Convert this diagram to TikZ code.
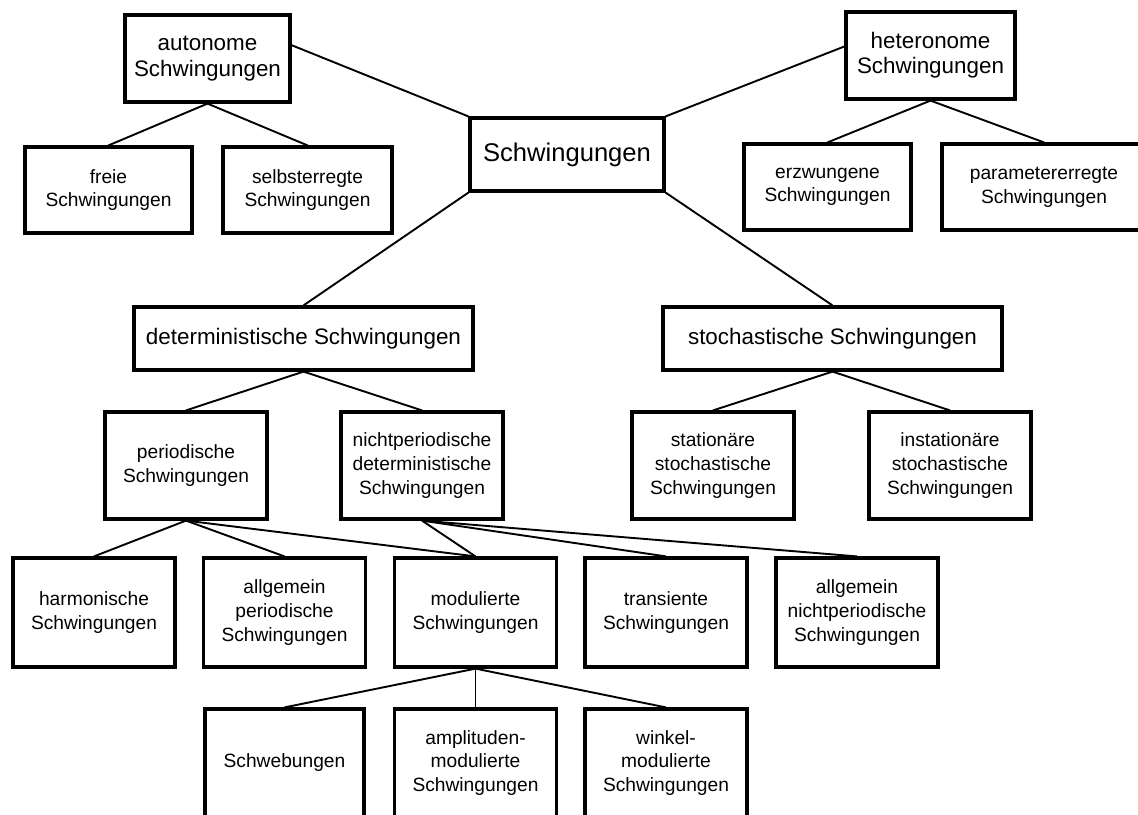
\documentclass[tikz,border=0pt]{standalone}
\usepackage{fontspec}
\setmainfont{Liberation Sans}
\begin{document}
\begin{tikzpicture}[x=0.5pt,y=-0.5pt,
  box/.style={draw, rectangle, line width=1.6pt, inner sep=0pt, align=center},
  smallbox/.style={box, font=\fontsize{9.6}{11.8}\selectfont, minimum width=81pt},
  midbox/.style={box, font=\fontsize{11.2}{12.6}\selectfont},
  mainbox/.style={box, font=\fontsize{12.8}{15}\selectfont},
  conn/.style={line width=0.95pt}]
\useasboundingbox (0,0) rectangle (1138,814);
\fill[white] (0,0) rectangle (1138,814);
\clip (0,0) rectangle (1138,814);

% top level
\node[mainbox, minimum width=97pt, minimum height=36.5pt] (main) at (567,154.5) {Schwingungen};

% autonomous / heteronomous branch
\node[midbox, minimum width=82.5pt, minimum height=43.5pt] (auto) at (207.5,58.5) {autonome\\Schwingungen};
\node[midbox, minimum width=84.5pt, minimum height=43.5pt] (hetero) at (930.5,55.5) {heteronome\\Schwingungen};
\node[smallbox, minimum width=83.5pt, minimum height=43pt] (freie) at (108.5,190) {freie\\Schwingungen};
\node[smallbox, minimum width=84.5pt, minimum height=43pt] (selbst) at (307.5,190) {selbsterregte\\Schwingungen};
\node[smallbox, minimum width=83.5pt, minimum height=43pt] (erzw) at (827.5,187) {erzwungene\\Schwingungen};
\node[smallbox, minimum width=102pt, minimum height=43pt] (param) at (1044,187) {parametererregte\\Schwingungen};

% deterministic / stochastic branch
\node[midbox, minimum width=169.5pt, minimum height=31.5pt] (det) at (303.5,338.5) {deterministische Schwingungen};
\node[midbox, minimum width=169.5pt, minimum height=31.5pt] (stoch) at (832.5,338.5) {stochastische Schwingungen};

\node[smallbox, minimum height=53.5pt] (per) at (186,465.5) {periodische\\Schwingungen};
\node[smallbox, minimum height=53.5pt] (nicht) at (422,465.5) {nichtperiodische\\deterministische\\Schwingungen};
\node[smallbox, minimum height=53.5pt] (stat) at (713,465.5) {stationäre\\stochastische\\Schwingungen};
\node[smallbox, minimum height=53.5pt] (inst) at (950,465.5) {instationäre\\stochastische\\Schwingungen};

\node[smallbox, minimum height=54.5pt] (harm) at (94,612.5) {harmonische\\Schwingungen};
\node[smallbox, minimum height=54.5pt] (allgper) at (284.5,612.5) {allgemein\\periodische\\Schwingungen};
\node[smallbox, minimum height=54.5pt] (modul) at (475.5,612.5) {modulierte\\Schwingungen};
\node[smallbox, minimum height=54.5pt] (trans) at (666,612.5) {transiente\\Schwingungen};
\node[smallbox, minimum height=54.5pt] (allgnp) at (857,612.5) {allgemein\\nichtperiodische\\Schwingungen};

\node[smallbox, minimum width=79.5pt, minimum height=54pt] (schweb) at (284.5,763) {Schwebungen};
\node[smallbox, minimum height=54pt] (ampl) at (475.5,763) {amplituden-\\modulierte\\Schwingungen};
\node[smallbox, minimum height=54pt] (winkel) at (666,763) {winkel-\\modulierte\\Schwingungen};

% connectors
\draw[conn] (main.north west) -- (auto.9.3);
\draw[conn] (main.north east) -- (hetero.174.3);
\draw[conn] (auto.south) -- (freie.north);
\draw[conn] (auto.south) -- (selbst.north);
\draw[conn] (hetero.south) -- (erzw.north);
\draw[conn] (hetero.south) -- (param.north);

\draw[conn] (main.south west) -- (det.north);
\draw[conn] (main.south east) -- (stoch.north);
\draw[conn] (det.south) -- (per.north);
\draw[conn] (det.south) -- (nicht.north);
\draw[conn] (stoch.south) -- (stat.north);
\draw[conn] (stoch.south) -- (inst.north);

\draw[conn] (per.south) -- (harm.north);
\draw[conn] (per.south) -- (allgper.north);
\draw[conn] (per.south) -- (modul.north);
\draw[conn] (nicht.south) -- (modul.north);
\draw[conn] (nicht.south) -- (trans.north);
\draw[conn] (nicht.south) -- (allgnp.north);

\draw[conn] (modul.south) -- (schweb.north);
\draw[conn] (modul.south) -- (ampl.north);
\draw[conn] (modul.south) -- (winkel.north);
\end{tikzpicture}
\end{document}
